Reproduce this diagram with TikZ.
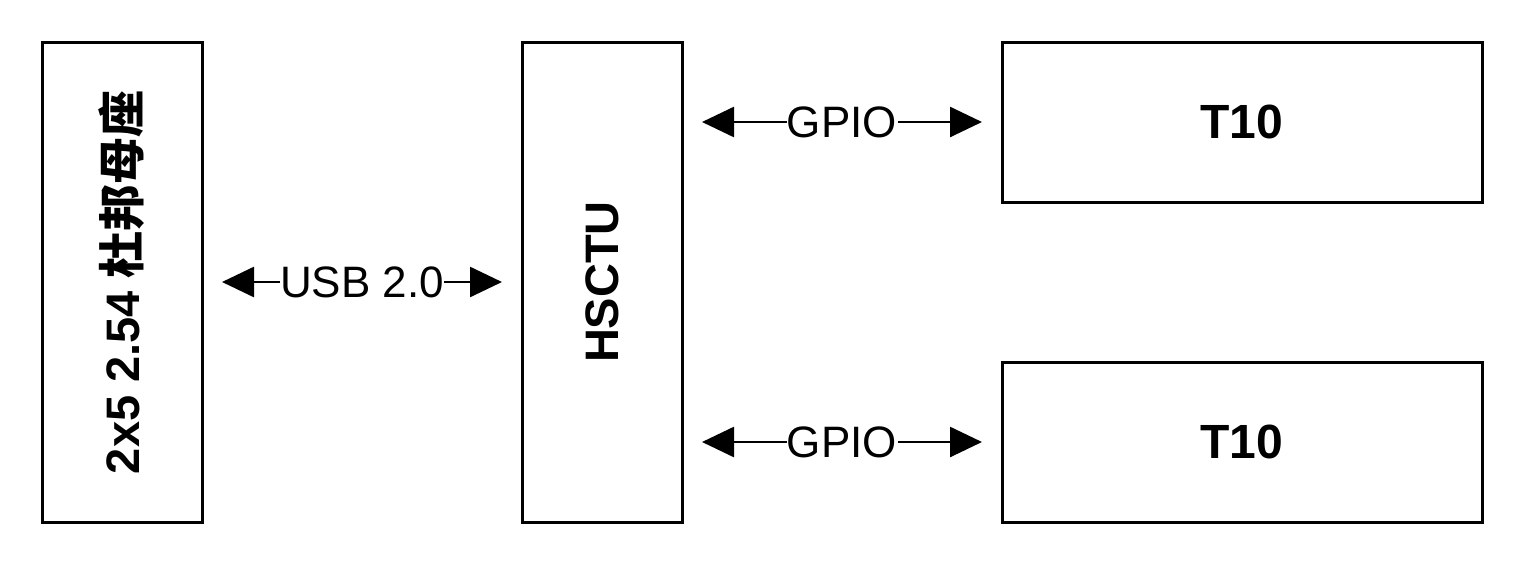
\documentclass[tikz,border=0pt]{standalone}
\usepackage{fontspec}
\setmainfont{Liberation Sans}
\newfontfamily\cjk{Noto Sans CJK SC}
\usetikzlibrary{arrows.meta}
\begin{document}
\begin{tikzpicture}[x=1pt,y=-1pt,
  blk/.style={draw=black,line width=3pt,minimum width=160pt,minimum height=480pt,inner sep=0pt},
  wblk/.style={draw=black,line width=3pt,minimum width=480pt,minimum height=160pt,inner sep=0pt,font=\fontsize{48}{56}\selectfont\bfseries},
  vtxt/.style={rotate=90,font=\fontsize{47}{56}\selectfont\bfseries},
  link/.style={line width=2.6pt,{Triangle[length=32pt,width=30pt]}-{Triangle[length=32pt,width=30pt]}},
  lbl/.style={fill=white,inner sep=0.5pt,font=\fontsize{44}{52}\selectfont}]
\useasboundingbox (0,0) rectangle (1528,568);
\node[blk] (dup) at (122,282) {};
\node[vtxt] (duplbl) at (dup.center) {2x5 2.54 {\cjk\bfseries 杜邦母座}};
\node[blk] (hsctu) at (602,282) {};
\node[vtxt] (hsctulbl) at (hsctu.center) {HSCTU};
\node[wblk] (t1) at (1242,122) {T10};
\node[wblk] (t2) at (1242,442) {T10};
\coordinate (u1) at (222,282);
\coordinate (u2) at (502,282);
\coordinate (g1a) at (702,122);
\coordinate (g1b) at (982,122);
\coordinate (g2a) at (702,442);
\coordinate (g2b) at (982,442);
\draw[link] (u1) -- node[lbl] (usb) {USB 2.0} (u2);
\draw[link] (g1a) -- node[lbl] (gp1) {GPIO} (g1b);
\draw[link] (g2a) -- node[lbl] (gp2) {GPIO} (g2b);
\end{tikzpicture}
\end{document}
